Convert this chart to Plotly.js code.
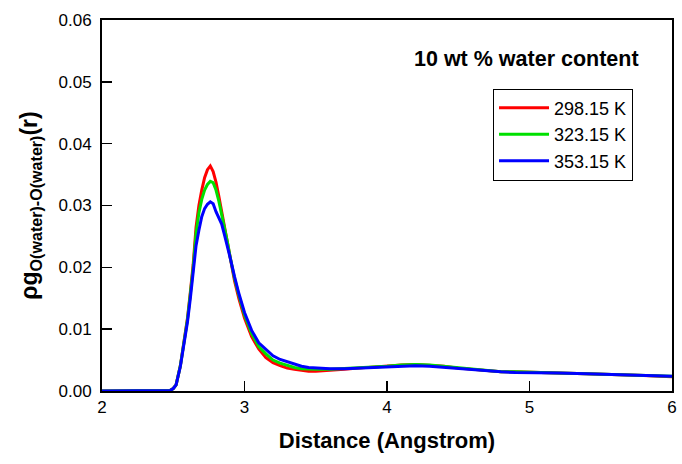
<!DOCTYPE html>
<html><head><meta charset="utf-8">
<script src="https://cdn.plot.ly/plotly-3.0.1.min.js"></script>
<style>html,body{margin:0;padding:0;background:#fff}#c{width:682px;height:464px}</style>
</head><body><div id="c"></div>
<script>
const distance = [2.0,2.4,2.45,2.48,2.5,2.52,2.55,2.58,2.6,2.62,2.64,2.66,2.68,2.7,2.72,2.74,2.76,2.78,2.8,2.82,2.84,2.86,2.88,2.9,2.93,2.96,3.0,3.05,3.1,3.15,3.2,3.25,3.3,3.35,3.4,3.45,3.5,3.6,3.7,3.8,3.9,4.0,4.1,4.2,4.3,4.4,4.5,4.6,4.7,4.8,4.9,5.0,5.2,5.4,5.6,5.8,6.0];
const rdf_298 = [0,0,0,0.0001,0.0004,0.001,0.0041,0.0085,0.0118,0.016,0.0205,0.0265,0.030,0.0325,0.0345,0.0358,0.0364,0.0355,0.0338,0.0315,0.029,0.0265,0.024,0.0213,0.0178,0.015,0.0118,0.0088,0.0068,0.0054,0.0046,0.0041,0.0037,0.0035,0.0033,0.0032,0.0032,0.0033,0.0035,0.0037,0.0039,0.0040,0.0042,0.0043,0.0042,0.0040,0.0037,0.0035,0.0032,0.0031,0.0031,0.0030,0.0029,0.0028,0.0027,0.0025,0.0023];
const rdf_323 = [0,0,0,0.0001,0.0004,0.001,0.0041,0.0084,0.0116,0.0157,0.0200,0.0255,0.0288,0.031,0.0325,0.0334,0.0339,0.0337,0.0325,0.0307,0.0286,0.0264,0.0241,0.0216,0.0182,0.0155,0.0123,0.0093,0.0072,0.0060,0.0050,0.0045,0.0041,0.0038,0.0036,0.0035,0.0035,0.0035,0.0036,0.0037,0.0039,0.0040,0.0042,0.0043,0.0042,0.0040,0.0037,0.0035,0.0033,0.0031,0.0031,0.0030,0.0029,0.0028,0.0027,0.0025,0.0024];
const rdf_353 = [0,0,0,0.0001,0.0004,0.001,0.0040,0.0082,0.0112,0.015,0.019,0.0235,0.026,0.0282,0.0295,0.0302,0.0306,0.0303,0.029,0.0281,0.027,0.0252,0.0235,0.0215,0.0185,0.0158,0.0127,0.0098,0.0078,0.0068,0.0057,0.0051,0.0047,0.0043,0.0040,0.0038,0.0037,0.0036,0.0036,0.0037,0.0038,0.0039,0.0040,0.0041,0.0040,0.0038,0.0036,0.0034,0.0032,0.0031,0.0030,0.0030,0.0029,0.0028,0.0027,0.0025,0.0024];
const seriesNames = ['298.15 K','323.15 K','353.15 K'];
const seriesColors = ['#ff0000','#00e000','#0000ff'];
const xTicks = [2,3,4,5,6];
const yTicks = [0,0.01,0.02,0.03,0.04,0.05,0.06];
const yTickLabels = ['0.00','0.01','0.02','0.03','0.04','0.05','0.06'];

const F = 'Liberation Sans, Arial, Helvetica, sans-serif';
const ys = [rdf_298, rdf_323, rdf_353];
const traces = ys.map((y,i)=>({x:distance,y:y,type:'scatter',mode:'lines',name:seriesNames[i],
  line:{color:seriesColors[i],width:3}}));
const layout = {
  width:682,height:464,
  margin:{l:102,r:10,t:20,b:73},
  paper_bgcolor:'#fff',plot_bgcolor:'#fff',
  font:{family:F,size:16,color:'#000'},
  showlegend:true,
  legend:{x:0.686,y:0.815,xanchor:'left',yanchor:'top',bordercolor:'#000',borderwidth:1,
    font:{family:F,size:18,color:'#000'},tracegroupgap:0,bgcolor:'#fff',itemwidth:50},
  xaxis:{range:[2,6],tickvals:xTicks,ticktext:xTicks.map(String),ticks:'inside',ticklen:10,tickwidth:1.5,tickcolor:'#000',
    showline:true,linecolor:'#000',linewidth:2,mirror:true,showgrid:false,zeroline:false,
    tickfont:{family:F,size:17},
    title:{text:'<b>Distance (Angstrom)</b>',font:{family:F,size:22},standoff:16}},
  yaxis:{range:[0,0.06],tickvals:yTicks,ticktext:yTickLabels,ticks:'inside',ticklen:10,tickwidth:1.5,tickcolor:'#000',
    showline:true,linecolor:'#000',linewidth:2,mirror:true,showgrid:false,zeroline:false,
    tickfont:{family:F,size:17},ticklabelstandoff:5,
    title:{text:'<b>ρg<sub>O(water)-O(water)</sub>(r)</b>',font:{family:F,size:23},standoff:14}},
  annotations:[{text:'<b>10 wt % water content</b>',xref:'paper',yref:'paper',x:0.744,y:0.895,
    xanchor:'center',yanchor:'middle',showarrow:false,font:{family:F,size:21.5,color:'#000'}}]
};
Plotly.newPlot('c',traces,layout,{displayModeBar:false,staticPlot:true});
</script></body></html>
